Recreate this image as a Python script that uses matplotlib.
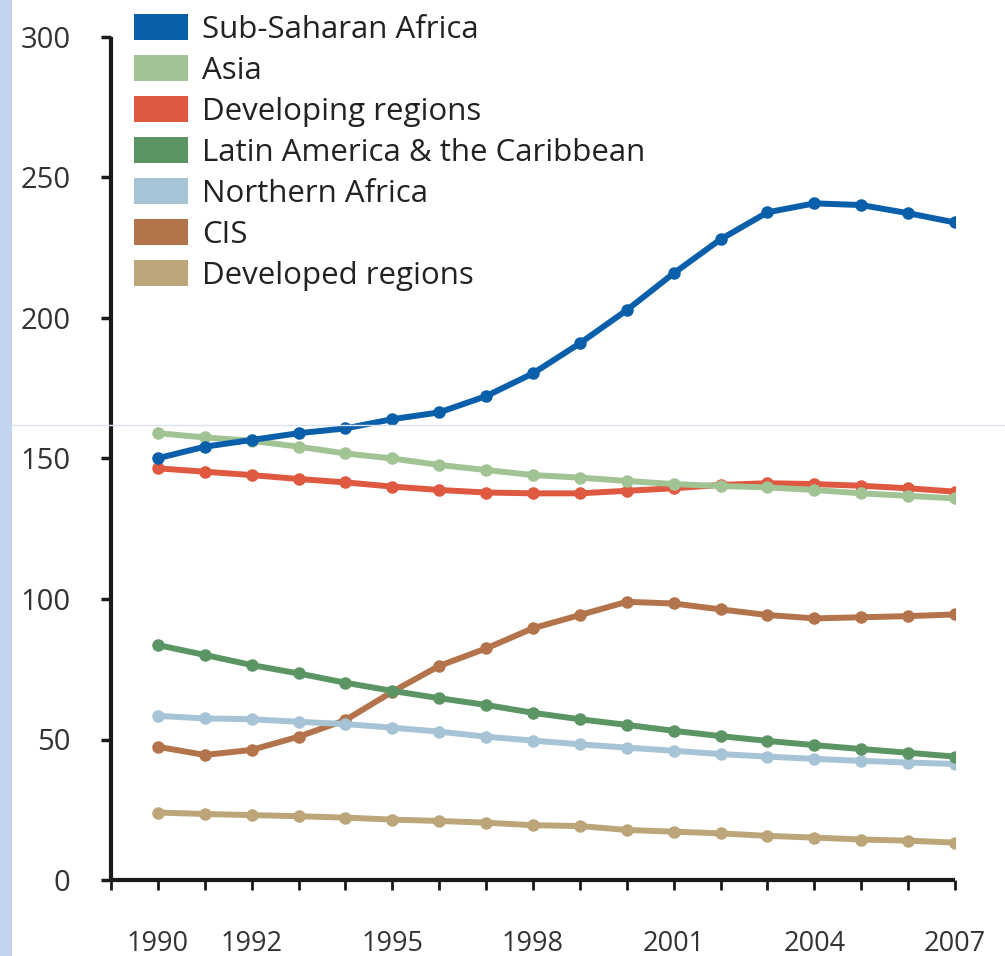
import matplotlib
matplotlib.use("Agg")
import matplotlib.pyplot as plt
from matplotlib.patches import Patch, Rectangle
from matplotlib.lines import Line2D

plt.rcParams['font.family'] = ['Open Sans', 'DejaVu Sans']

years = list(range(1990, 2008))

sub_saharan = [150.1, 154.2, 156.6, 159.0, 160.7, 164.0, 166.4, 172.2, 180.3, 191.0,
               202.8, 215.9, 228.0, 237.6, 240.8, 240.2, 237.3, 234.0]
asia = [159.0, 157.5, 156.3, 154.2, 151.8, 150.0, 147.7, 145.9, 144.1, 143.2,
        142.0, 140.9, 140.2, 139.7, 138.8, 137.6, 136.7, 135.8]
developing = [146.5, 145.3, 144.1, 142.7, 141.5, 140.0, 138.8, 137.9, 137.6, 137.6,
              138.5, 139.4, 140.6, 141.2, 140.9, 140.3, 139.4, 138.2]
latin_america = [83.6, 80.1, 76.5, 73.5, 70.2, 67.3, 64.7, 62.3, 59.5, 57.2,
                 55.2, 53.1, 51.2, 49.5, 48.0, 46.6, 45.3, 43.9]
northern_africa = [58.4, 57.5, 57.2, 56.3, 55.5, 54.2, 52.8, 51.0, 49.6, 48.3,
                   47.1, 46.0, 44.8, 43.9, 43.1, 42.4, 41.8, 41.3]
cis = [47.4, 44.5, 46.3, 51.0, 56.9, 67.0, 76.2, 82.4, 89.6, 94.3,
       99.0, 98.4, 96.3, 94.3, 93.1, 93.5, 93.9, 94.5]
developed = [24.0, 23.5, 23.1, 22.7, 22.2, 21.5, 21.0, 20.4, 19.5, 19.2,
             17.8, 17.2, 16.6, 15.7, 15.1, 14.4, 14.0, 13.3]

series_names = ['Sub-Saharan Africa', 'Asia', 'Developing regions',
                'Latin America & the Caribbean', 'Northern Africa', 'CIS',
                'Developed regions']
series_values = [sub_saharan, asia, developing, latin_america,
                 northern_africa, cis, developed]
series_colors = ['#0a5fab', '#a2c495', '#df5940', '#5b9564', '#a7c3d6',
                 '#b4744b', '#bca679']

x_labels = {1990: '1990', 1992: '1992', 1995: '1995', 1998: '1998',
            2001: '2001', 2004: '2004', 2007: '2007'}

fig = plt.figure(figsize=(10.05, 9.56), dpi=100)
ax = fig.add_axes([111 / 1005, 76 / 956, 844 / 1005, 843 / 956])

# draw bottom series first so the top lines sit above
order = [6, 4, 3, 5, 1, 2, 0]
for i in order:
    ax.plot(years, series_values[i], color=series_colors[i], lw=4.3,
            marker='o', ms=8, solid_capstyle='round', zorder=3 + (6 - i) * 0.1)

ax.set_xlim(1989, 2007)
ax.set_ylim(0, 300)
ax.set_yticks(range(0, 301, 50))
ax.set_xticks(range(1989, 2008))
ax.set_xticklabels([x_labels.get(y, '') for y in range(1989, 2008)])

for s in ['top', 'right']:
    ax.spines[s].set_visible(False)
for s in ['left', 'bottom']:
    ax.spines[s].set_linewidth(3)
    ax.spines[s].set_color('#1a1a1a')
    ax.spines[s].set_capstyle('butt')

ax.tick_params(axis='y', length=7, width=2.5, pad=22, labelsize=21,
               labelcolor='#333333', color='#1a1a1a')
ax.tick_params(axis='x', length=7, width=2, pad=29, labelsize=19.5,
               labelcolor='#333333', color='#1a1a1a')

handles = [Patch(facecolor=c, edgecolor='none') for c in series_colors]
ax.legend(handles, series_names, loc='upper left',
          bbox_to_anchor=(134 / 1005, 1 - 14 / 956),
          bbox_transform=fig.transFigure, frameon=False, borderpad=0,
          fontsize=22.5, handlelength=1.73, handleheight=0.9,
          handletextpad=0.45, labelspacing=0.33, borderaxespad=0,
          labelcolor='#222222')

# page edge strip and faint scan line from the source image
fig.patches.append(Rectangle((0, 0), 12 / 1005, 1, transform=fig.transFigure,
                             facecolor='#c3d3ee', edgecolor='none', zorder=0))
fig.lines.append(Line2D([12 / 1005, 1], [1 - 425 / 956, 1 - 425 / 956],
                        transform=fig.transFigure, color='#dbe2f2', lw=1))

fig.savefig('out.png', dpi=100)
